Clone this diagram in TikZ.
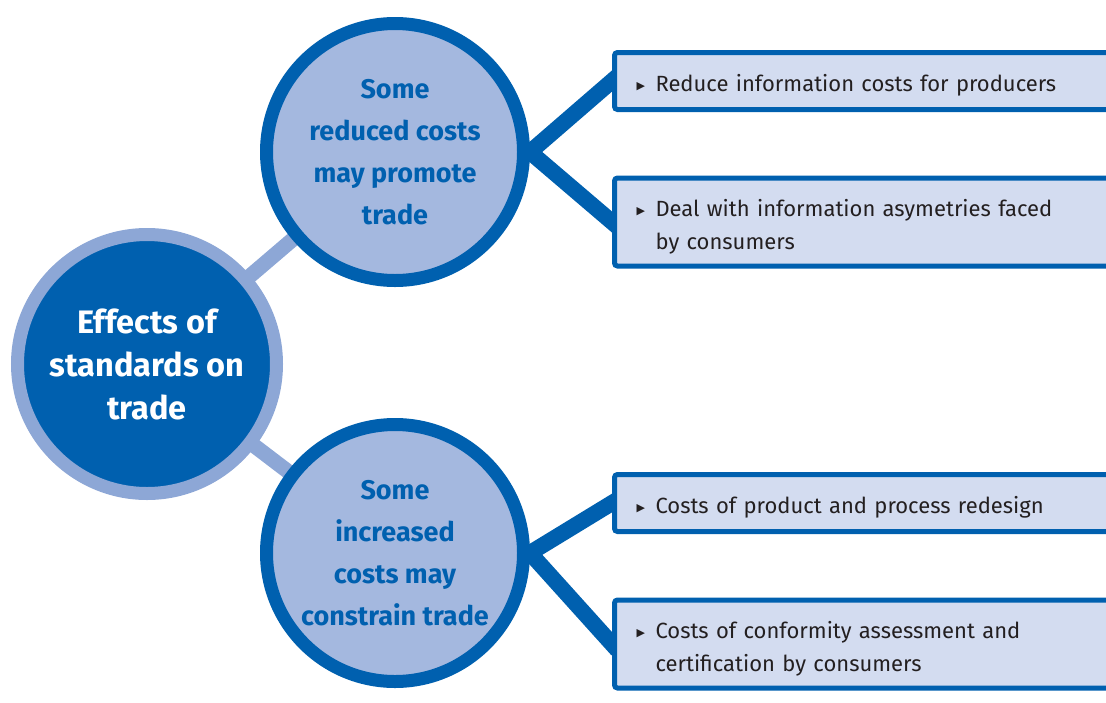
\documentclass[tikz,border=0pt]{standalone}
\usepackage{fontspec}
\setmainfont{Fira Sans}
\newfontfamily\symfont{DejaVu Sans}
\usetikzlibrary{backgrounds}
\definecolor{wtoblue}{HTML}{0060AF}
\definecolor{ringblue}{HTML}{8DA7D6}
\definecolor{discblue}{HTML}{A4B8DF}
\definecolor{boxblue}{HTML}{D3DCF0}
\definecolor{inktext}{HTML}{231F20}
\newcommand{\pnt}[2][440pt]{\rule{0pt}{26pt}\makebox[19pt][l]{\raisebox{2pt}{\symfont\fontsize{11}{11}\selectfont ▶}}\parbox[t]{#1}{#2}}
\tikzset{
  bigdisc/.style={circle, minimum size=259pt, inner sep=0pt, fill=wtoblue, draw=ringblue, line width=13pt,
    text=white, align=center, font=\bfseries\fontsize{32.5}{43}\selectfont},
  subdisc/.style={circle, minimum size=257pt, inner sep=0pt, fill=discblue, draw=wtoblue, line width=13pt,
    text=wtoblue, align=center, font=\bfseries\fontsize{27}{42}\selectfont},
  itembox/.style={rectangle, rounded corners=3pt, anchor=west, fill=boxblue, draw=wtoblue, line width=5pt,
    inner xsep=22pt, inner ysep=0pt, text width=469pt, align=left, text=inktext, font=\fontsize{22}{33}\selectfont},
  stem/.style={draw=ringblue, line width=15pt},
  twig/.style={draw=wtoblue, line width=16pt, line join=miter, shorten <=-8pt, shorten >=-8pt}
}
\begin{document}
\begin{tikzpicture}[x=1pt,y=-1pt]
\useasboundingbox (0,0) rectangle (1106,702);
% the three discs
\node[bigdisc] (eff) at (147,364) {Effects of\\standards on\\trade};
\node[subdisc] (red) at (395,152) {Some\\reduced costs\\may promote\\trade};
\node[subdisc] (inc) at (395,553) {Some\\increased\\costs may\\constrain trade};
% the boxes on the right
\node[itembox, minimum height=57pt] (r1) at (612,81) {\pnt{Reduce information costs for producers}};
\node[itembox, minimum height=88pt] (r2) at (612,222) {\pnt{Deal with information asymetries faced\\by consumers}};
\node[itembox, minimum height=57pt] (i1) at (612,503) {\pnt{Costs of product and process redesign}};
\node[itembox, minimum height=88pt] (i2) at (612,644) {\pnt{Costs of conformity assessment and\\certification by consumers}};
\begin{scope}[on background layer]
\draw[stem] (eff.center)--(red.center);
\draw[stem] (eff.center)--(inc.center);
\draw[twig] (r1.west)--(red.east)--(r2.west);
\draw[twig] (i1.west)--(inc.east)--(i2.west);
\end{scope}
\end{tikzpicture}
\end{document}
